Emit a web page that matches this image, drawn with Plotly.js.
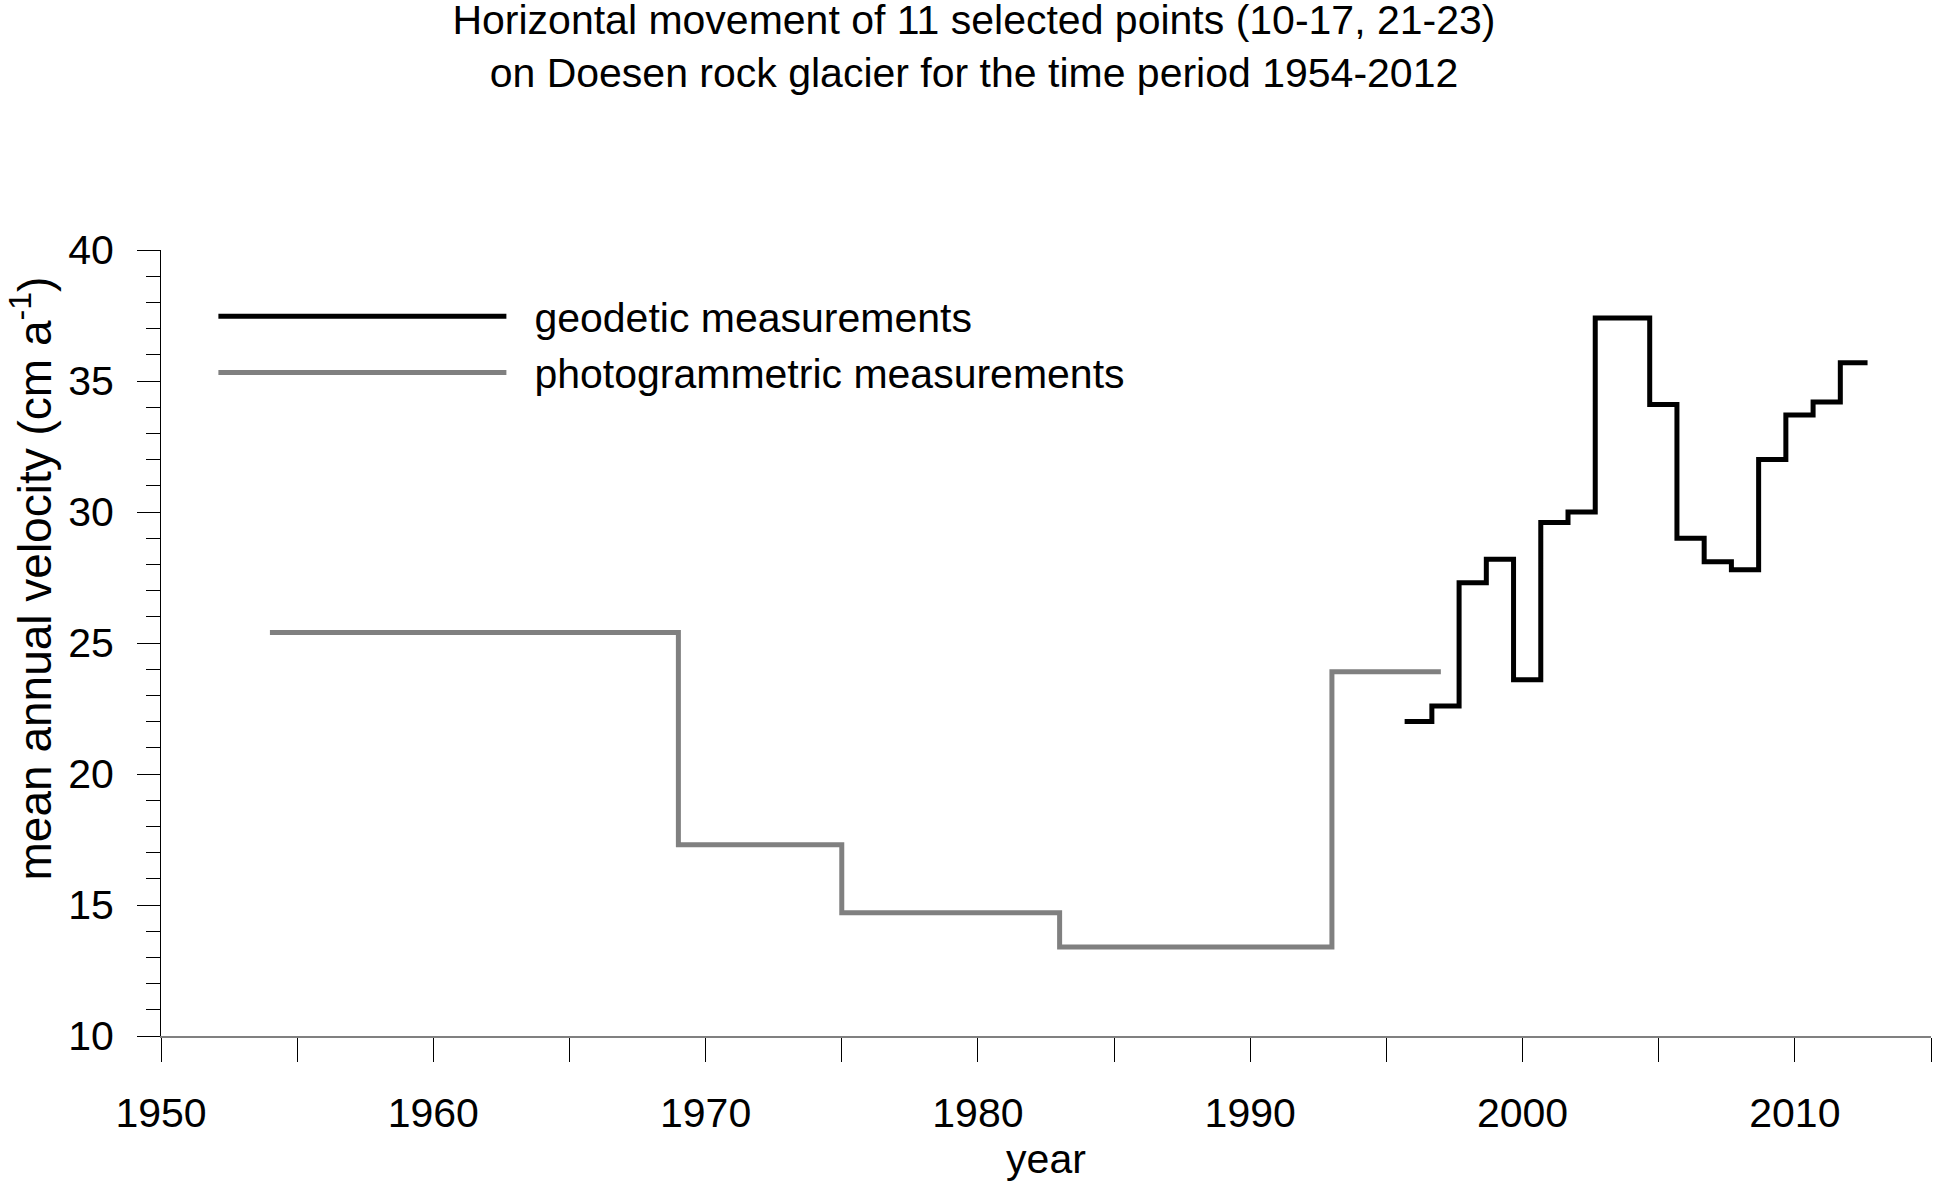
<!DOCTYPE html>
<html>
<head>
<meta charset="utf-8">
<script src="https://cdn.plot.ly/plotly-3.0.1.min.js"></script>
<style>
html, body { margin: 0; padding: 0; background: #ffffff; }
#chart { width: 1934px; height: 1185px; }
</style>
</head>
<body>
<div id="chart"></div>
<script>
// ---- data ----
const geodeticYears = [1995.67, 1996.67, 1997.67, 1998.67, 1999.67, 2000.67, 2001.67, 2002.67, 2004.67, 2005.67, 2006.67, 2007.67, 2008.67, 2009.67, 2010.67, 2011.67, 2012.67];
const geodeticVelocity = [22.0, 22.6, 27.3, 28.2, 23.6, 29.6, 30.0, 37.4, 34.1, 29.0, 28.1, 27.8, 32.0, 33.7, 34.2, 35.7, 35.7];

const photoYears = [1954, 1969, 1975, 1983, 1993, 1997];
const photoVelocity = [25.4, 17.3, 14.7, 13.4, 23.9, 23.9];

const xTickValues = [1950, 1960, 1970, 1980, 1990, 2000, 2010];
const xTickLabels = ['1950', '1960', '1970', '1980', '1990', '2000', '2010'];
const yTickValues = [10, 15, 20, 25, 30, 35, 40];
const yTickLabels = ['10', '15', '20', '25', '30', '35', '40'];

const seriesNames = ['geodetic measurements', 'photogrammetric measurements'];
const titleLines = ['Horizontal movement of 11 selected points (10-17, 21-23)', 'on Doesen rock glacier for the time period 1954-2012'];
const xAxisTitle = 'year';
const yAxisTitle = 'mean annual velocity (cm a<sup>-1</sup>)';

const FONT = 'Liberation Sans, Arial, Helvetica, sans-serif';

const traces = [
  {
    x: geodeticYears, y: geodeticVelocity, name: seriesNames[0],
    type: 'scatter', mode: 'lines', line: { shape: 'hv', color: '#000000', width: 5 },
    legendgroup: 'g', hoverinfo: 'x+y'
  },
  {
    x: photoYears, y: photoVelocity, name: seriesNames[1],
    type: 'scatter', mode: 'lines', line: { shape: 'hv', color: '#808080', width: 5 },
    legendgroup: 'p', hoverinfo: 'x+y'
  }
];

const layout = {
  width: 1934, height: 1185,
  paper_bgcolor: '#ffffff', plot_bgcolor: '#ffffff',
  margin: { l: 161, r: 3, t: 250, b: 149, pad: 0 },
  font: { family: FONT, size: 41, color: '#000000' },
  title: {
    text: titleLines.join('<br>'),
    font: { family: FONT, size: 41, color: '#000000' },
    xref: 'container', x: 0.5036, xanchor: 'center',
    yref: 'container', y: 0.9715, yanchor: 'top'
  },
  showlegend: true,
  legend: {
    x: 0.0296, xanchor: 'left', y: 0.958, yanchor: 'top',
    font: { family: FONT, size: 41, color: '#000000' },
    bgcolor: 'rgba(0,0,0,0)', borderwidth: 0,
    itemwidth: 311, tracegroupgap: 7, traceorder: 'normal'
  },
  xaxis: {
    range: [1950, 2015], autorange: false,
    tickmode: 'array', tickvals: xTickValues, ticktext: xTickLabels,
    ticks: 'outside', ticklen: 24, tickwidth: 1, tickcolor: '#000000',
    ticklabelstandoff: 16,
    tickfont: { family: FONT, size: 41, color: '#000000' },
    minor: { tickmode: 'linear', tick0: 1950, dtick: 5, ticks: 'outside', ticklen: 24, tickwidth: 1, tickcolor: '#000000', showgrid: false },
    showline: true, linecolor: '#808080', linewidth: 2,
    showgrid: false, zeroline: false,
    title: { text: xAxisTitle, font: { family: FONT, size: 41, color: '#000000' }, standoff: 6 }
  },
  yaxis: {
    range: [10, 40], autorange: false,
    tickmode: 'array', tickvals: yTickValues, ticktext: yTickLabels,
    ticks: 'outside', ticklen: 23, tickwidth: 1, tickcolor: '#000000',
    ticklabelstandoff: 15,
    tickfont: { family: FONT, size: 41, color: '#000000' },
    minor: { tickmode: 'linear', tick0: 10, dtick: 1, ticks: 'outside', ticklen: 14, tickwidth: 1, tickcolor: '#000000', showgrid: false },
    showline: true, linecolor: '#000000', linewidth: 1,
    showgrid: false, zeroline: false
  },
  annotations: [
    {
      text: yAxisTitle, textangle: -90, showarrow: false,
      xref: 'paper', x: -0.0735, xanchor: 'center',
      yref: 'paper', y: 0.582, yanchor: 'middle',
      font: { family: FONT, size: 46, color: '#000000' }
    }
  ]
};

Plotly.newPlot('chart', traces, layout, { displayModeBar: false, staticPlot: true }).then(function () {
  // lengthen the legend sample lines to match the reference
  document.querySelectorAll('.legend .legendlines path').forEach(function (p) {
    p.setAttribute('d', 'M5,0h288');
  });
});
</script>
</body>
</html>
